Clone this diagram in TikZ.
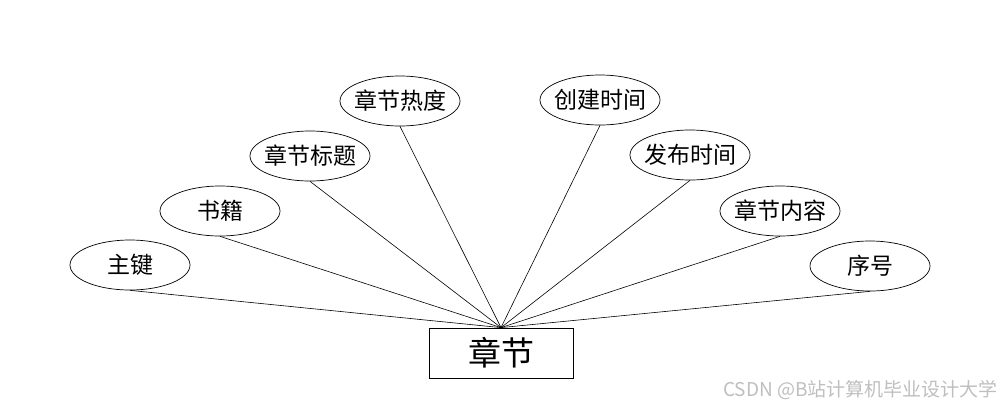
\documentclass[tikz,border=0pt]{standalone}
\usepackage{fontspec}
\newfontfamily\cjk{Noto Sans CJK SC}
\usetikzlibrary{shapes.geometric}
\newcommand\zw[1]{\makebox[0pt][c]{#1}}
\begin{document}
\begin{tikzpicture}[x=1pt,y=-1pt,
  attr/.style={draw, ellipse, line width=0.7pt, minimum width=120pt, minimum height=50pt, inner sep=0pt, font=\cjk\fontsize{23}{23}\selectfont},
  ent/.style={draw, rectangle, line width=0.8pt, minimum width=144pt, minimum height=50pt, inner sep=0pt, font=\cjk\fontsize{33}{33}\selectfont},
  link/.style={line width=0.6pt}]
\useasboundingbox[fill=white] (0,0) rectangle (1000,408);
\node[ent] (e) at (501,353) {章节};
\node[attr] (a1) at (130,265) {\zw{主键}};
\node[attr] (a2) at (220,211) {\zw{书籍}};
\node[attr] (a3) at (310,156) {\zw{章节标题}};
\node[attr] (a4) at (400,101) {\zw{章节热度}};
\node[attr] (a5) at (600,100) {\zw{创建时间}};
\node[attr] (a6) at (690,155) {\zw{发布时间}};
\node[attr] (a7) at (780,211) {\zw{章节内容}};
\node[attr] (a8) at (870,266) {\zw{序号}};
\foreach \n in {a1,a2,a3,a4,a5,a6,a7,a8}
  \draw[link] (\n.south) -- (e.north);
\node[anchor=east, text=black!25, inner sep=0pt, font=\cjk\fontsize{19}{19}\selectfont] (wm) at (998,390) {CSDN @B站计算机毕业设计大学};
\end{tikzpicture}
\end{document}
